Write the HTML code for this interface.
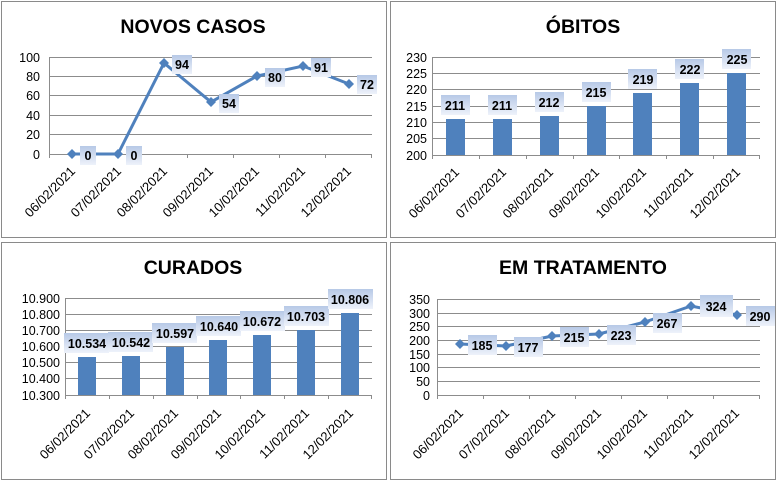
<!DOCTYPE html>
<html><head><meta charset="utf-8"><style>
body{margin:0;background:#fff}
svg{display:block;font-family:"Liberation Sans",sans-serif}
.t{font-size:19.5px;font-weight:bold;text-anchor:middle}
.ax{font-size:12.5px;text-anchor:end;fill:#000}
.d{font-size:13px;text-anchor:end}
.l{font-size:12.5px;font-weight:bold;text-anchor:middle}
.g{stroke:#8c8c8c;stroke-width:1}
.b{fill:url(#lb)}
</style></head><body>
<svg width="778" height="483" viewBox="0 0 778 483">
<defs><linearGradient id="lb" x1="0" y1="0" x2="0" y2="1"><stop offset="0" stop-color="#b7c9e6"/><stop offset="1" stop-color="#eef2fa"/></linearGradient></defs>
<g fill="none" stroke="#8a8a8a"><rect x="1.5" y="1.5" width="385" height="236"/><rect x="390.5" y="1.5" width="385" height="236"/><rect x="1.5" y="242.5" width="385" height="237"/><rect x="390.5" y="242.5" width="385" height="237"/></g>

<!-- NOVOS CASOS -->
<text class="t" x="193" y="33">NOVOS CASOS</text>
<g class="g"><line x1="49" x2="372" y1="57.5" y2="57.5"/><line x1="49" x2="372" y1="76.5" y2="76.5"/><line x1="49" x2="372" y1="95.5" y2="95.5"/><line x1="49" x2="372" y1="115.5" y2="115.5"/><line x1="49" x2="372" y1="134.5" y2="134.5"/><line x1="49" x2="372" y1="154.5" y2="154.5"/><line x1="49.5" x2="49.5" y1="57" y2="158"/><line x1="95.5" x2="95.5" y1="154" y2="158"/><line x1="141.5" x2="141.5" y1="154" y2="158"/><line x1="187.5" x2="187.5" y1="154" y2="158"/><line x1="233.5" x2="233.5" y1="154" y2="158"/><line x1="279.5" x2="279.5" y1="154" y2="158"/><line x1="325.5" x2="325.5" y1="154" y2="158"/><line x1="371.5" x2="371.5" y1="154" y2="158"/></g>
<g class="ax"><text x="40" y="62">100</text><text x="40" y="81">80</text><text x="40" y="100">60</text><text x="40" y="120">40</text><text x="40" y="139">20</text><text x="40" y="159">0</text></g>
<polyline fill="none" stroke="#4f81bd" stroke-width="3" points="72,154 118,154 164,63 211,102 257,76 303,66 349,84"/>
<g fill="#4f81bd"><path d="M72 149l5 5-5 5-5-5z"/><path d="M118 149l5 5-5 5-5-5z"/><path d="M164 58l5 5-5 5-5-5z"/><path d="M211 97l5 5-5 5-5-5z"/><path d="M257 71l5 5-5 5-5-5z"/><path d="M303 61l5 5-5 5-5-5z"/><path d="M349 79l5 5-5 5-5-5z"/></g>
<g class="b"><rect x="80" y="146" width="16" height="19"/><rect x="126" y="146" width="16" height="19"/><rect x="172" y="55" width="20" height="19"/><rect x="219" y="94" width="20" height="19"/><rect x="265" y="68" width="20" height="19"/><rect x="311" y="58" width="20" height="19"/><rect x="357" y="75" width="20" height="19"/></g>
<g class="l"><text x="88" y="160">0</text><text x="134" y="160">0</text><text x="182" y="69">94</text><text x="229" y="108">54</text><text x="275" y="82">80</text><text x="321" y="72">91</text><text x="367" y="89">72</text></g>
<g class="d"><text transform="translate(76,172) rotate(-45)">06/02/2021</text><text transform="translate(122,172) rotate(-45)">07/02/2021</text><text transform="translate(168,172) rotate(-45)">08/02/2021</text><text transform="translate(214,172) rotate(-45)">09/02/2021</text><text transform="translate(260,172) rotate(-45)">10/02/2021</text><text transform="translate(306,172) rotate(-45)">11/02/2021</text><text transform="translate(352,172) rotate(-45)">12/02/2021</text></g>

<!-- ÓBITOS -->
<text class="t" x="583" y="33">ÓBITOS</text>
<g class="g"><line x1="432" x2="760" y1="57.5" y2="57.5"/><line x1="432" x2="760" y1="73.5" y2="73.5"/><line x1="432" x2="760" y1="89.5" y2="89.5"/><line x1="432" x2="760" y1="106.5" y2="106.5"/><line x1="432" x2="760" y1="122.5" y2="122.5"/><line x1="432" x2="760" y1="138.5" y2="138.5"/><line x1="432" x2="760" y1="155.5" y2="155.5"/><line x1="432.5" x2="432.5" y1="57" y2="159"/><line x1="479.5" x2="479.5" y1="155" y2="159"/><line x1="526.5" x2="526.5" y1="155" y2="159"/><line x1="573.5" x2="573.5" y1="155" y2="159"/><line x1="619.5" x2="619.5" y1="155" y2="159"/><line x1="666.5" x2="666.5" y1="155" y2="159"/><line x1="713.5" x2="713.5" y1="155" y2="159"/><line x1="759.5" x2="759.5" y1="155" y2="159"/></g>
<g class="ax"><text x="427" y="62">230</text><text x="427" y="78">225</text><text x="427" y="94">220</text><text x="427" y="111">215</text><text x="427" y="127">210</text><text x="427" y="143">205</text><text x="427" y="160">200</text></g>
<g fill="#4f81bd"><rect x="446" y="119" width="19" height="36"/><rect x="493" y="119" width="19" height="36"/><rect x="540" y="116" width="19" height="39"/><rect x="587" y="106" width="19" height="49"/><rect x="633" y="93" width="19" height="62"/><rect x="680" y="83" width="19" height="72"/><rect x="727" y="73" width="19" height="82"/></g>
<g class="b"><rect x="441" y="95" width="29" height="20"/><rect x="488" y="95" width="29" height="20"/><rect x="535" y="92" width="29" height="20"/><rect x="582" y="82" width="29" height="20"/><rect x="628" y="69" width="29" height="20"/><rect x="675" y="59" width="29" height="20"/><rect x="722" y="49" width="29" height="20"/></g>
<g class="l"><text x="455" y="110">211</text><text x="502" y="110">211</text><text x="549" y="107">212</text><text x="596" y="97">215</text><text x="643" y="84">219</text><text x="690" y="74">222</text><text x="737" y="64">225</text></g>
<g class="d"><text transform="translate(460,173) rotate(-45)">06/02/2021</text><text transform="translate(507,173) rotate(-45)">07/02/2021</text><text transform="translate(554,173) rotate(-45)">08/02/2021</text><text transform="translate(600,173) rotate(-45)">09/02/2021</text><text transform="translate(647,173) rotate(-45)">10/02/2021</text><text transform="translate(694,173) rotate(-45)">11/02/2021</text><text transform="translate(741,173) rotate(-45)">12/02/2021</text></g>

<!-- CURADOS -->
<text class="t" x="193" y="274">CURADOS</text>
<g class="g"><line x1="65" x2="372" y1="298.5" y2="298.5"/><line x1="65" x2="372" y1="314.5" y2="314.5"/><line x1="65" x2="372" y1="330.5" y2="330.5"/><line x1="65" x2="372" y1="346.5" y2="346.5"/><line x1="65" x2="372" y1="362.5" y2="362.5"/><line x1="65" x2="372" y1="378.5" y2="378.5"/><line x1="65" x2="372" y1="395.5" y2="395.5"/><line x1="65.5" x2="65.5" y1="298" y2="399"/><line x1="109.5" x2="109.5" y1="395" y2="399"/><line x1="153.5" x2="153.5" y1="395" y2="399"/><line x1="197.5" x2="197.5" y1="395" y2="399"/><line x1="240.5" x2="240.5" y1="395" y2="399"/><line x1="284.5" x2="284.5" y1="395" y2="399"/><line x1="328.5" x2="328.5" y1="395" y2="399"/><line x1="371.5" x2="371.5" y1="395" y2="399"/></g>
<g class="ax"><text x="60" y="303">10.900</text><text x="60" y="319">10.800</text><text x="60" y="335">10.700</text><text x="60" y="351">10.600</text><text x="60" y="367">10.500</text><text x="60" y="383">10.400</text><text x="60" y="400">10.300</text></g>
<g fill="#4f81bd"><rect x="78" y="357" width="18" height="38"/><rect x="122" y="356" width="18" height="39"/><rect x="166" y="347" width="18" height="48"/><rect x="209" y="340" width="18" height="55"/><rect x="253" y="335" width="18" height="60"/><rect x="297" y="330" width="18" height="65"/><rect x="341" y="313" width="18" height="82"/></g>
<g class="b"><rect x="64" y="333" width="45" height="20"/><rect x="108" y="332" width="45" height="20"/><rect x="152" y="323" width="45" height="20"/><rect x="196" y="316" width="45" height="20"/><rect x="240" y="311" width="45" height="20"/><rect x="284" y="306" width="45" height="20"/><rect x="328" y="289" width="45" height="20"/></g>
<g class="l"><text x="87" y="348">10.534</text><text x="131" y="347">10.542</text><text x="175" y="338">10.597</text><text x="219" y="331">10.640</text><text x="262" y="326">10.672</text><text x="306" y="321">10.703</text><text x="350" y="304">10.806</text></g>
<g class="d"><text transform="translate(91,414) rotate(-45)">06/02/2021</text><text transform="translate(135,414) rotate(-45)">07/02/2021</text><text transform="translate(179,414) rotate(-45)">08/02/2021</text><text transform="translate(222,414) rotate(-45)">09/02/2021</text><text transform="translate(266,414) rotate(-45)">10/02/2021</text><text transform="translate(310,414) rotate(-45)">11/02/2021</text><text transform="translate(354,414) rotate(-45)">12/02/2021</text></g>

<!-- EM TRATAMENTO -->
<text class="t" x="583" y="274">EM TRATAMENTO</text>
<g class="g"><line x1="437" x2="760" y1="299.5" y2="299.5"/><line x1="437" x2="760" y1="313.5" y2="313.5"/><line x1="437" x2="760" y1="326.5" y2="326.5"/><line x1="437" x2="760" y1="340.5" y2="340.5"/><line x1="437" x2="760" y1="354.5" y2="354.5"/><line x1="437" x2="760" y1="367.5" y2="367.5"/><line x1="437" x2="760" y1="381.5" y2="381.5"/><line x1="437" x2="760" y1="395.5" y2="395.5"/><line x1="437.5" x2="437.5" y1="299" y2="399"/><line x1="483.5" x2="483.5" y1="395" y2="399"/><line x1="529.5" x2="529.5" y1="395" y2="399"/><line x1="575.5" x2="575.5" y1="395" y2="399"/><line x1="621.5" x2="621.5" y1="395" y2="399"/><line x1="667.5" x2="667.5" y1="395" y2="399"/><line x1="713.5" x2="713.5" y1="395" y2="399"/><line x1="759.5" x2="759.5" y1="395" y2="399"/></g>
<g class="ax"><text x="430" y="304">350</text><text x="430" y="318">300</text><text x="430" y="331">250</text><text x="430" y="345">200</text><text x="430" y="359">150</text><text x="430" y="372">100</text><text x="430" y="386">50</text><text x="430" y="400">0</text></g>
<polyline fill="none" stroke="#4f81bd" stroke-width="3" points="460,344 506,346 552,336 599,334 645,322 691,306 737,315"/>
<g fill="#4f81bd"><path d="M460 339l5 5-5 5-5-5z"/><path d="M506 341l5 5-5 5-5-5z"/><path d="M552 331l5 5-5 5-5-5z"/><path d="M599 329l5 5-5 5-5-5z"/><path d="M645 317l5 5-5 5-5-5z"/><path d="M691 301l5 5-5 5-5-5z"/><path d="M737 310l5 5-5 5-5-5z"/></g>
<g class="b"><rect x="468" y="335" width="29" height="20"/><rect x="514" y="337" width="29" height="20"/><rect x="560" y="327" width="29" height="20"/><rect x="607" y="325" width="29" height="20"/><rect x="653" y="313" width="29" height="20"/><rect x="700" y="295" width="33" height="22"/><rect x="746" y="306" width="29" height="20"/></g>
<g class="l"><text x="482" y="350">185</text><text x="528" y="352">177</text><text x="574" y="342">215</text><text x="621" y="340">223</text><text x="667" y="328">267</text><text x="716" y="311">324</text><text x="760" y="321">290</text></g>
<g class="d"><text transform="translate(464,414) rotate(-45)">06/02/2021</text><text transform="translate(510,414) rotate(-45)">07/02/2021</text><text transform="translate(556,414) rotate(-45)">08/02/2021</text><text transform="translate(602,414) rotate(-45)">09/02/2021</text><text transform="translate(648,414) rotate(-45)">10/02/2021</text><text transform="translate(694,414) rotate(-45)">11/02/2021</text><text transform="translate(740,414) rotate(-45)">12/02/2021</text></g>
</svg>
</body></html>
